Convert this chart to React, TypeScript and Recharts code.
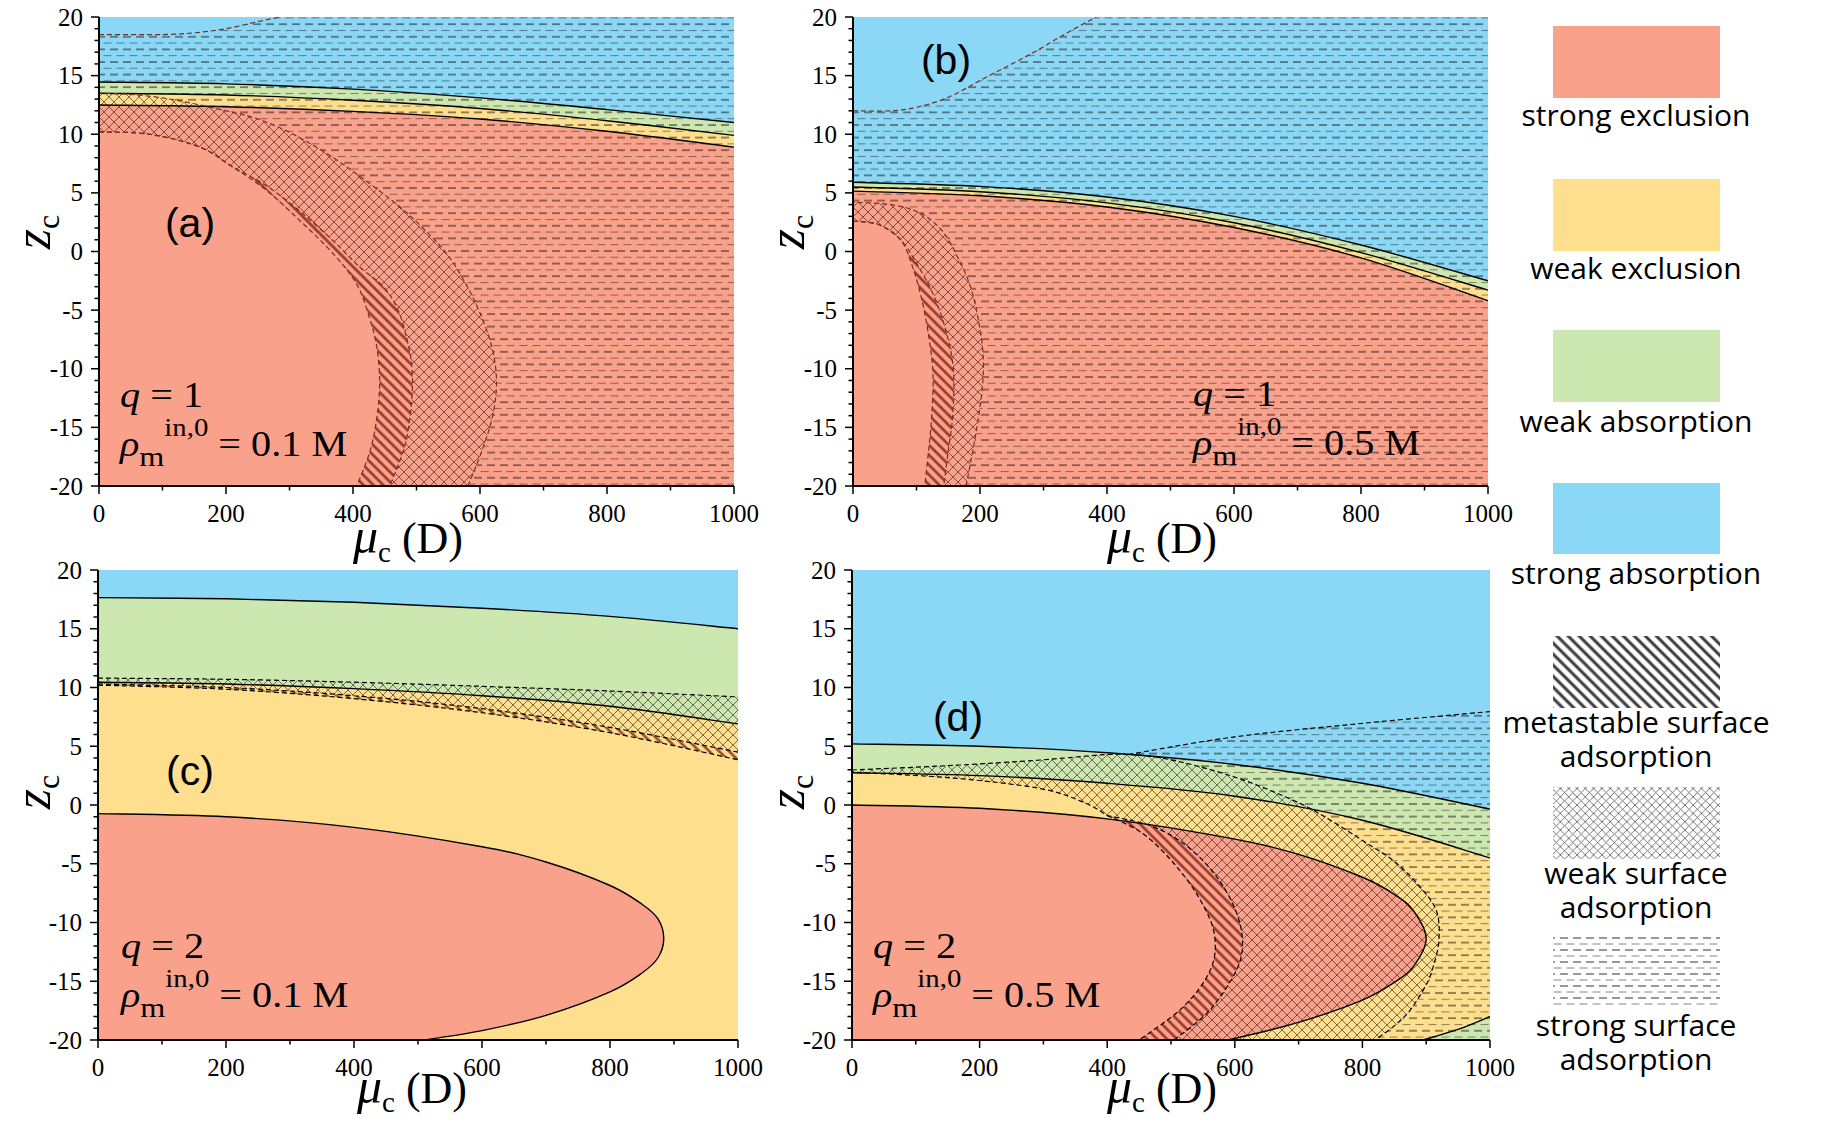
import React from "react";
import { Area, ComposedChart, Line, XAxis, YAxis } from "recharts";

type Curve = [number, number][];

// region colours
const RED = "#f9a18b";
const YELLOW = "#fddf8e";
const GREEN = "#cde7b0";
const BLUE = "#8ad8f6";

const MU_TICKS = [0, 100, 200, 300, 400, 500, 600, 700, 800, 900, 1000];
const Z_TICKS = [
  -20, -19, -18, -17, -16, -15, -14, -13, -12, -11, -10, -9, -8, -7, -6, -5, -4, -3, -2, -1, 0, 1, 2, 3, 4, 5,
  6, 7, 8, 9, 10, 11, 12, 13, 14, 15, 16, 17, 18, 19, 20,
];

// whole plot, used for the top (strong absorption) fill
const FULL: Curve = [[0, 20], [1000, 20]];

// ---- (a) q = 1, rho = 0.1 M ----  points are [mu_c, z_c]
const A_BG: Curve = [[0, 14.45], [200, 14.3], [400, 13.85], [600, 13.1], [800, 12.1], [1000, 11.0]];
const A_GY: Curve = [[0, 13.5], [200, 13.35], [400, 12.9], [600, 12.2], [800, 11.15], [1000, 9.9]];
const A_YR: Curve = [[0, 12.5], [200, 12.35], [400, 11.95], [600, 11.3], [800, 10.25], [1000, 8.9]];
const A_SURF: Curve = [[0, 18.5], [100, 18.5], [150, 18.65], [200, 19.0], [250, 19.6], [285, 20]];
const A_CROSS: Curve = [
  [581, -20], [603, -17], [620, -14], [626, -11], [618, -8], [598, -5], [575, -2.5], [545, 0], [510, 2],
  [474, 3.8], [421, 6.0], [369, 8.0], [306, 10.0], [250, 11.3], [200, 12.0], [150, 12.6], [100, 13.1],
  [50, 13.4], [0, 13.5],
];
const A_DIAG: Curve = [
  [0, 10.2], [80, 10.0], [159, 8.9], [211, 7.2], [264, 5.6], [317, 3.4], [369, 0.9], [410, -1.3],
  [448, -3.0], [471, -5], [485, -7.5], [493, -10], [492, -13], [482, -16.5], [458, -20],
];
const A_INNER: Curve = [
  [0, 10.2], [80, 10.0], [159, 8.9], [211, 7.2], [264, 5.2], [317, 2.6], [369, -0.2], [406, -2.8],
  [425, -5.5], [437, -8], [442, -11], [438, -14], [427, -17], [406, -20],
];

// ---- (b) q = 1, rho = 0.5 M ----
const B_BG: Curve = [[0, 5.9], [200, 5.55], [400, 4.65], [600, 3.0], [800, 0.55], [1000, -2.5]];
const B_GY: Curve = [[0, 5.5], [200, 5.1], [400, 4.15], [600, 2.45], [800, -0.1], [1000, -3.3]];
const B_YR: Curve = [[0, 5.15], [200, 4.75], [400, 3.8], [600, 2.05], [800, -0.55], [1000, -4.2]];
const B_SURF: Curve = [[0, 12.0], [60, 12.0], [100, 12.3], [150, 13.15], [211, 14.9], [280, 16.85], [334, 18.55], [383, 20]];
const B_CROSS: Curve = [
  [178, -20], [192, -16], [203, -12], [205, -9], [198, -6], [185, -3], [165, -0.5], [140, 1.8], [105, 3.3],
  [60, 4.0], [0, 4.2],
];
const B_DIAG: Curve = [
  [0, 2.6], [40, 2.3], [75, 1.0], [100, -1.0], [125, -3.5], [145, -6.5], [158, -10], [157, -14], [150, -17], [143, -20],
];
const B_INNER: Curve = [
  [0, 2.6], [40, 2.3], [75, 1.0], [95, -1.5], [110, -4.5], [120, -7.5], [126, -10.5], [124, -14], [119, -17], [113, -20],
];

// ---- (c) q = 2, rho = 0.1 M ----
const C_BG: Curve = [[0, 17.65], [200, 17.55], [400, 17.25], [600, 16.75], [800, 16.05], [1000, 15.0]];
const C_GY: Curve = [[0, 10.45], [200, 10.3], [400, 9.9], [600, 9.3], [800, 8.4], [1000, 6.9]];
const C_UP: Curve = [[0, 10.8], [200, 10.7], [400, 10.45], [600, 10.1], [800, 9.7], [1000, 9.2]];
const C_LO1: Curve = [[0, 10.3], [200, 10.0], [400, 9.3], [600, 8.2], [800, 6.6], [1000, 4.5]];
const C_LO2: Curve = [[0, 10.2], [200, 9.85], [400, 9.05], [600, 7.85], [800, 6.15], [1000, 3.85]];
const C_RED: Curve = [
  [0, -0.73], [200, -1.0], [400, -1.9], [600, -3.55], [700, -4.85], [800, -6.85], [850, -8.45], [875, -9.7],
  [884, -11.37], [875, -13.0], [850, -14.3], [800, -15.9], [700, -17.9], [600, -19.2], [510, -20],
];

// ---- (d) q = 2, rho = 0.5 M ----
const D_BG: Curve = [[0, 5.2], [200, 5.0], [400, 4.45], [600, 3.45], [800, 1.85], [1000, -0.35]];
const D_GY: Curve = [[0, 2.75], [200, 2.5], [400, 1.85], [600, 0.75], [800, -1.3], [1000, -4.5]];
const D_CORNER: Curve = [[895, -20], [950, -19.1], [1000, -18.0]];
const D_RED: Curve = [
  [0, 0], [200, -0.28], [400, -1.18], [600, -2.9], [700, -4.2], [800, -6.15], [850, -7.6], [880, -9.0],
  [900, -11.37], [880, -13.75], [850, -15.1], [800, -16.6], [700, -18.5], [590, -20],
];
const D_SURF: Curve = [[433, 4.3], [600, 5.8], [800, 6.95], [1000, 7.95]];
const D_CO_LEFT: Curve = [[0, 2.98], [157, 3.37], [295, 3.83], [389, 4.26]];
const D_CO_RIGHT: Curve = [
  [433, 4.3], [480, 4.05], [545, 3.26], [620, 2.0], [702, 0.14], [750, -1.3], [807, -3.26], [850, -4.8],
  [890, -6.95], [916, -9], [920, -11.5], [911, -13.76], [900, -15.3], [875, -17.45], [850, -18.8], [820, -20],
];
const D_CI_LOW: Curve = [
  [505, -20], [561, -17.45], [603, -14], [612, -11.5], [600, -8.8], [570, -6], [525, -3.5], [470, -1.8], [400, -0.9],
];
const D_CI_HIGH: Curve = [[400, -0.9], [365, 0.18], [295, 1.4], [157, 2.3], [0, 2.8]];
const D_DI: Curve = [
  [400, -0.9], [455, -2.4], [505, -5], [545, -8], [568, -11], [562, -14], [519, -17.2], [450, -20],
];

const rows = (c: Curve) => c.map(([mu, z]) => ({ mu, z }));
const rev = (c: Curve): Curve => [...c].reverse();
// repeat the ends of each piece so the outline keeps a sharp corner where pieces meet
const join = (...parts: Curve[]): Curve => parts.flatMap((p) => [p[0], ...p, p[p.length - 1]]);

// Catmull-Rom through the points; works for outlines that fold back on themselves
function smooth(context: any) {
  let pts: number[][] = [];
  let line = NaN;
  return {
    areaStart() {
      line = 0;
    },
    areaEnd() {
      line = NaN;
    },
    lineStart() {
      pts = [];
    },
    lineEnd() {
      const n = pts.length;
      if (n) {
        if (line) context.lineTo(pts[0][0], pts[0][1]);
        else context.moveTo(pts[0][0], pts[0][1]);
        for (let i = 0; i < n - 1; i++) {
          const p0 = pts[Math.max(i - 1, 0)];
          const p1 = pts[i];
          const p2 = pts[i + 1];
          const p3 = pts[Math.min(i + 2, n - 1)];
          if (p1[0] === p2[0] && p1[1] === p2[1]) continue;
          context.bezierCurveTo(
            p1[0] + (p2[0] - p0[0]) / 6,
            p1[1] + (p2[1] - p0[1]) / 6,
            p2[0] - (p3[0] - p1[0]) / 6,
            p2[1] - (p3[1] - p1[1]) / 6,
            p2[0],
            p2[1]
          );
        }
      }
      if (line || (line !== 0 && n === 1)) context.closePath();
      line = 1 - line;
    },
    point(x: number, y: number) {
      pts.push([+x, +y]);
    },
  };
}

function region(key: string, c: Curve, fill: string) {
  return (
    <Area
      key={key}
      data={rows(c)}
      dataKey="z"
      type={smooth as any}
      baseValue={-20}
      fill={fill}
      fillOpacity={1}
      stroke="none"
      dot={false}
      activeDot={false}
      isAnimationActive={false}
    />
  );
}

function edge(key: string, c: Curve, color: string, dashed = false) {
  return (
    <Line
      key={key}
      data={rows(c)}
      dataKey="z"
      type={smooth as any}
      stroke={color}
      strokeWidth={dashed ? 1.2 : 1.4}
      strokeDasharray={dashed ? "5 3" : undefined}
      dot={false}
      activeDot={false}
      isAnimationActive={false}
    />
  );
}

const SERIF = "'Liberation Serif', 'Times New Roman', serif";
const SANS = "'Liberation Sans', Arial, sans-serif";
const LEGEND_FONT = "'Open Sans', 'Noto Sans', sans-serif";
const AXIS_LINE = { stroke: "#000", strokeWidth: 2 };

const bottomTick = (p: any) => {
  const v = p.payload.value;
  const major = v % 200 === 0;
  return (
    <g>
      <line x1={p.x} x2={p.x} y1={p.y} y2={p.y + (major ? 8 : 4.5)} stroke="#000" strokeWidth={1.5} />
      {major && (
        <text x={p.x} y={p.y + 36} textAnchor="middle" fontFamily={SERIF} fontSize={25} fill="#000">
          {v}
        </text>
      )}
    </g>
  );
};
const topTick = (p: any) => {
  const major = p.payload.value % 200 === 0;
  return <line x1={p.x} x2={p.x} y1={p.y} y2={p.y + (major ? 8 : 4.5)} stroke="#000" strokeWidth={1.5} />;
};
const leftTick = (p: any) => {
  const v = p.payload.value;
  const major = v % 5 === 0;
  return (
    <g>
      <line x1={p.x} x2={p.x - (major ? 8 : 4.5)} y1={p.y} y2={p.y} stroke="#000" strokeWidth={1.5} />
      {major && (
        <text x={p.x - 16} y={p.y + 8.5} textAnchor="end" fontFamily={SERIF} fontSize={25} fill="#000">
          {v}
        </text>
      )}
    </g>
  );
};
const rightTick = (p: any) => {
  const major = p.payload.value % 5 === 0;
  return <line x1={p.x} x2={p.x - (major ? 8 : 4.5)} y1={p.y} y2={p.y} stroke="#000" strokeWidth={1.5} />;
};

function Panel({ x, y, w, h, children }: { x: number; y: number; w: number; h: number; children: React.ReactNode }) {
  return (
    <div style={{ position: "absolute", left: x - 80, top: y - 20 }}>
      <ComposedChart width={w + 110} height={h + 100} margin={{ top: 20, right: 30, bottom: 0, left: 0 }}>
        {children}
        <XAxis
          type="number"
          dataKey="mu"
          domain={[0, 1000]}
          ticks={MU_TICKS}
          interval={0}
          allowDataOverflow
          height={80}
          tickSize={0}
          tickMargin={0}
          tickLine={false}
          axisLine={AXIS_LINE}
          tick={bottomTick}
        />
        <XAxis
          xAxisId="top"
          orientation="top"
          type="number"
          dataKey="mu"
          domain={[0, 1000]}
          ticks={MU_TICKS}
          interval={0}
          allowDataOverflow
          height={0}
          tickSize={0}
          tickMargin={0}
          tickLine={false}
          axisLine={AXIS_LINE}
          tick={topTick}
        />
        <YAxis
          type="number"
          domain={[-20, 20]}
          ticks={Z_TICKS}
          interval={0}
          allowDataOverflow
          width={80}
          tickSize={0}
          tickMargin={0}
          tickLine={false}
          axisLine={AXIS_LINE}
          tick={leftTick}
        />
        <YAxis
          yAxisId="right"
          orientation="right"
          type="number"
          domain={[-20, 20]}
          ticks={Z_TICKS}
          interval={0}
          allowDataOverflow
          width={0}
          tickSize={0}
          tickMargin={0}
          tickLine={false}
          axisLine={AXIS_LINE}
          tick={rightTick}
        />
      </ComposedChart>
    </div>
  );
}

const DASH = "url(#pat-dash)";
const CROSS = "url(#pat-cross)";
const STRIPE = "url(#pat-stripe)";
const LINE_RED = "#7e2c20";

function XTitle({ cx, y }: { cx: number; y: number }) {
  return (
    <text x={cx} y={y} textAnchor="middle" fontFamily={SERIF} fontSize={44}>
      <tspan fontStyle="italic" fontSize={50}>μ</tspan>
      <tspan fontSize={29} dy={9}>c</tspan>
      <tspan dy={-9}> (D)</tspan>
    </text>
  );
}
function YTitle({ x, cy }: { x: number; cy: number }) {
  return (
    <text transform={`translate(${x},${cy}) rotate(-90)`} textAnchor="middle" fontFamily={SERIF} fontSize={52}>
      <tspan fontStyle="italic">z</tspan>
      <tspan fontSize={32} dy={9}>c</tspan>
    </text>
  );
}
function Params({ x, y, q, rho }: { x: number; y: number; q: string; rho: string }) {
  return (
    <g fontFamily={SERIF} fontSize={35}>
      <text transform={`translate(${x},${y}) scale(1.15,1)`}>
        <tspan fontStyle="italic">q</tspan> = {q}
      </text>
      <text transform={`translate(${x},${y + 49}) scale(1.15,1)`}>
        <tspan fontStyle="italic">ρ</tspan>
        <tspan fontSize={28} dy={10}>m</tspan>
        <tspan fontSize={25} dy={-30}>in,0</tspan>
        <tspan dy={20}> = {rho} M</tspan>
      </text>
    </g>
  );
}

const LEGEND_FILLS = [
  { fill: RED, y: 26, h: 72, lines: ["strong exclusion"], base: 126 },
  { fill: YELLOW, y: 179, h: 72, lines: ["weak exclusion"], base: 279 },
  { fill: GREEN, y: 330, h: 72, lines: ["weak absorption"], base: 432 },
  { fill: BLUE, y: 483, h: 71, lines: ["strong absorption"], base: 584 },
  { fill: "url(#leg-stripe)", y: 636, h: 72, lines: ["metastable surface", "adsorption"], base: 733 },
  { fill: "url(#leg-cross)", y: 787, h: 72, lines: ["weak surface", "adsorption"], base: 884 },
  { fill: "url(#leg-dash)", y: 937, h: 70, lines: ["strong surface", "adsorption"], base: 1036 },
];

export default function App() {
  return (
    <div style={{ position: "fixed", left: 0, top: 0, width: 1831, height: 1125, background: "#fff" }}>
      <svg width={0} height={0} style={{ position: "absolute" }}>
        <defs>
          <pattern id="pat-dash" width={13} height={12.6} patternUnits="userSpaceOnUse">
            <line x1={0} x2={8} y1={2} y2={2} stroke="rgba(30,20,20,0.72)" strokeWidth={1.3} />
            <line x1={6.5} x2={13} y1={8.3} y2={8.3} stroke="rgba(30,20,20,0.5)" strokeWidth={1} />
            <line x1={0} x2={1.5} y1={8.3} y2={8.3} stroke="rgba(30,20,20,0.5)" strokeWidth={1} />
          </pattern>
          <pattern id="pat-cross" width={10} height={10} patternUnits="userSpaceOnUse">
            <path d="M0 0 L10 10 M10 0 L0 10" stroke="rgba(40,20,20,0.65)" strokeWidth={0.9} />
          </pattern>
          <pattern id="pat-stripe" width={10} height={7} patternUnits="userSpaceOnUse" patternTransform="rotate(45)">
            <line x1={0} x2={10} y1={3.5} y2={3.5} stroke="rgba(110,10,0,0.7)" strokeWidth={2.6} />
          </pattern>
          <pattern id="leg-stripe" width={10} height={7.8} patternUnits="userSpaceOnUse" patternTransform="rotate(45)">
            <line x1={0} x2={10} y1={3.9} y2={3.9} stroke="#3a3a3a" strokeWidth={3} />
          </pattern>
          <pattern id="leg-cross" width={8.3} height={8.3} patternUnits="userSpaceOnUse">
            <path d="M0 0 L8.3 8.3 M8.3 0 L0 8.3" stroke="#555" strokeWidth={0.8} />
          </pattern>
          <pattern id="leg-dash" width={13} height={12} patternUnits="userSpaceOnUse">
            <line x1={0} x2={8} y1={2} y2={2} stroke="#444" strokeWidth={1.1} />
            <line x1={6.5} x2={13} y1={8} y2={8} stroke="#777" strokeWidth={0.9} />
            <line x1={0} x2={1.5} y1={8} y2={8} stroke="#777" strokeWidth={0.9} />
          </pattern>
        </defs>
      </svg>

      <Panel x={99} y={17} w={635} h={469}>
        {region("a-blue", FULL, BLUE)}
        {region("a-green", A_BG, GREEN)}
        {region("a-yellow", A_GY, YELLOW)}
        {region("a-red", A_YR, RED)}
        {region("a-dash", join(A_CROSS, [[0, 13.5], [0, 18.5]], A_SURF, [[285, 20], [1000, 20]]), DASH)}
        {region("a-cross", join(A_CROSS, [[0, 13.5], [0, 10.2]], A_DIAG), CROSS)}
        {region("a-stripe", join(rev(A_INNER), A_DIAG), STRIPE)}
        {edge("a-l1", A_BG, "#000")}
        {edge("a-l2", A_GY, "#000")}
        {edge("a-l3", A_YR, "#000")}
        {edge("a-l4", A_SURF, LINE_RED, true)}
        {edge("a-l5", A_CROSS, LINE_RED, true)}
        {edge("a-l6", A_DIAG, LINE_RED, true)}
        {edge("a-l7", A_INNER, LINE_RED, true)}
      </Panel>

      <Panel x={853} y={17} w={635} h={469}>
        {region("b-blue", FULL, BLUE)}
        {region("b-green", B_BG, GREEN)}
        {region("b-yellow", B_GY, YELLOW)}
        {region("b-red", B_YR, RED)}
        {region("b-dash", join(B_CROSS, [[0, 4.2], [0, 12.0]], B_SURF, [[383, 20], [1000, 20]]), DASH)}
        {region("b-cross", join(B_CROSS, [[0, 4.2], [0, 2.6]], B_DIAG), CROSS)}
        {region("b-stripe", join(rev(B_INNER), B_DIAG), STRIPE)}
        {edge("b-l1", B_BG, "#000")}
        {edge("b-l2", B_GY, "#000")}
        {edge("b-l3", B_YR, "#000")}
        {edge("b-l4", B_SURF, LINE_RED, true)}
        {edge("b-l5", B_CROSS, LINE_RED, true)}
        {edge("b-l6", B_DIAG, LINE_RED, true)}
        {edge("b-l7", B_INNER, LINE_RED, true)}
      </Panel>

      <Panel x={98} y={570} w={640} h={470}>
        {region("c-blue", FULL, BLUE)}
        {region("c-green", C_BG, GREEN)}
        {region("c-yellow", C_GY, YELLOW)}
        {region("c-red", C_RED, RED)}
        {region("c-cross", join(C_UP, [[1000, 9.2], [1000, 4.5]], rev(C_LO1)), CROSS)}
        {region("c-stripe", join(C_LO1, [[1000, 4.5], [1000, 3.85]], rev(C_LO2)), STRIPE)}
        {edge("c-l1", C_BG, "#000")}
        {edge("c-l2", C_GY, "#000")}
        {edge("c-l3", C_RED, "#000")}
        {edge("c-l4", C_UP, "#000", true)}
        {edge("c-l5", C_LO1, "#000", true)}
        {edge("c-l6", C_LO2, "#000", true)}
      </Panel>

      <Panel x={852} y={570} w={638} h={470}>
        {region("d-blue", FULL, BLUE)}
        {region("d-green", D_BG, GREEN)}
        {region("d-yellow", D_GY, YELLOW)}
        {region("d-corner", D_CORNER, GREEN)}
        {region("d-red", D_RED, RED)}
        {region("d-dash", join(rev(D_CO_RIGHT), D_SURF), DASH)}
        {region("d-cross", [...join([...D_CI_LOW, ...D_CI_HIGH], [[0, 2.8], [0, 2.98]]), ...D_CO_LEFT, ...D_CO_RIGHT], CROSS)}
        {region("d-stripe", join(D_CI_LOW, D_DI), STRIPE)}
        {edge("d-l1", D_BG, "#000")}
        {edge("d-l2", D_GY, "#000")}
        {edge("d-l3", D_CORNER, "#000")}
        {edge("d-l4", D_RED, "#000")}
        {edge("d-l5", D_SURF, "#000", true)}
        {edge("d-l6", [...D_CO_LEFT, ...D_CO_RIGHT], "#000", true)}
        {edge("d-l7", [...D_CI_LOW, ...D_CI_HIGH], "#000", true)}
        {edge("d-l8", D_DI, "#000", true)}
      </Panel>

      <svg width={1831} height={1125} style={{ position: "absolute", left: 0, top: 0, pointerEvents: "none" }}>
        <XTitle cx={408} y={553} />
        <XTitle cx={1162} y={553} />
        <XTitle cx={412} y={1103} />
        <XTitle cx={1162} y={1103} />
        <YTitle x={50} cy={232} />
        <YTitle x={804} cy={232} />
        <YTitle x={50} cy={792} />
        <YTitle x={804} cy={792} />

        <g fontFamily={SANS} fontSize={41} textAnchor="middle">
          <text x={190} y={237}>(a)</text>
          <text x={946} y={74}>(b)</text>
          <text x={190} y={785}>(c)</text>
          <text x={958} y={731}>(d)</text>
        </g>
        <Params x={120} y={407} q="1" rho="0.1" />
        <Params x={1193} y={406} q="1" rho="0.5" />
        <Params x={121} y={958} q="2" rho="0.1" />
        <Params x={873} y={958} q="2" rho="0.5" />

        {LEGEND_FILLS.map((item) => (
          <g key={item.lines[0]}>
            <rect x={1553} y={item.y} width={167} height={item.h} fill={item.fill} />
            {item.lines.map((t, i) => (
              <text
                key={t}
                x={1636}
                y={item.base + i * 34}
                textAnchor="middle"
                fontFamily={LEGEND_FONT}
                fontSize={30}
                fill="#000"
              >
                {t}
              </text>
            ))}
          </g>
        ))}
      </svg>
    </div>
  );
}
